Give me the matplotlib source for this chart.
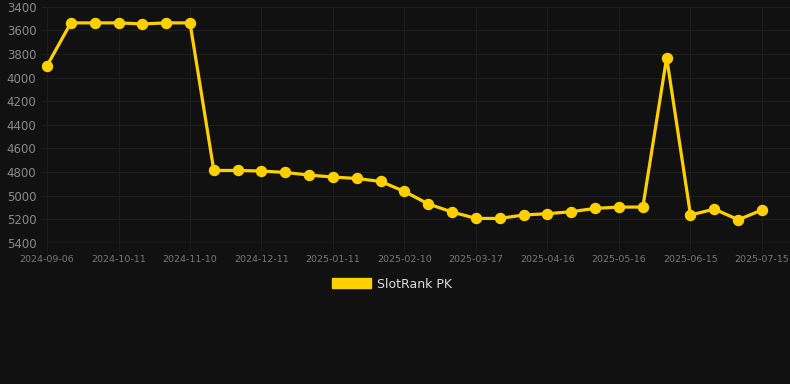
import matplotlib
matplotlib.use("Agg")
from matplotlib import pyplot as plt
from matplotlib.patches import Patch

# rank points (one per check date), labels shown every 3rd point
dates = ["2024-09-06", "2024-09-18", "2024-09-30", "2024-10-11", "2024-10-21", "2024-10-31",
         "2024-11-10", "2024-11-21", "2024-12-01", "2024-12-11", "2024-12-21", "2025-01-01",
         "2025-01-11", "2025-01-21", "2025-01-31", "2025-02-10", "2025-02-22", "2025-03-05",
         "2025-03-17", "2025-03-27", "2025-04-06", "2025-04-16", "2025-04-26", "2025-05-06",
         "2025-05-16", "2025-05-26", "2025-06-05", "2025-06-15", "2025-06-25", "2025-07-05",
         "2025-07-15"]
rank = [3900, 3537, 3537, 3537, 3546, 3537, 3537, 4786, 4786, 4791, 4803, 4825, 4842,
        4854, 4879, 4964, 5070, 5138, 5192, 5192, 5163, 5152, 5135, 5107, 5096, 5096,
        3831, 5163, 5113, 5203, 5121]
series_name = "SlotRank PK"

bg = "#111111"
grid_col = "#1d1d1d"
gold = "#FFD000"

fig = plt.figure(figsize=(7.9, 3.84), dpi=100, facecolor=bg)
ax = fig.add_axes([42/790, 1 - 243/384, 1 - 42/790, (243 - 6.7)/384])
ax.set_facecolor(bg)

xs = list(range(len(dates)))
ax.plot(xs, rank, color=gold, linewidth=2.3, marker="o", markersize=7.2,
        solid_joinstyle="miter", zorder=3)

ax.set_ylim(5400, 3400)
ax.set_yticks(range(3400, 5401, 200))
ax.set_xlim(-5/23.83, 30 + 28/23.83)
ax.set_xticks(xs[::3])
ax.set_xticklabels(dates[::3])

ax.grid(True, color=grid_col, linewidth=0.8)
for s in ax.spines.values():
    s.set_visible(False)
ax.axhline(5400, color="#2a2a2a", linewidth=1, zorder=1)

ax.tick_params(axis="y", length=0, pad=4, labelcolor="#8a8a8a", labelsize=8.5)
ax.tick_params(axis="x", length=6, color=grid_col, pad=3, labelcolor="#777777", labelsize=6.8)

fig.legend(handles=[Patch(facecolor=gold, edgecolor=gold, label=series_name)],
           loc="center", bbox_to_anchor=(392/790, 1 - 284/384), frameon=False,
           handlelength=3.1, handleheight=0.8, handletextpad=0.5,
           labelcolor="#dddddd", fontsize=9)

fig.savefig("out.png", dpi=100, facecolor=bg)
